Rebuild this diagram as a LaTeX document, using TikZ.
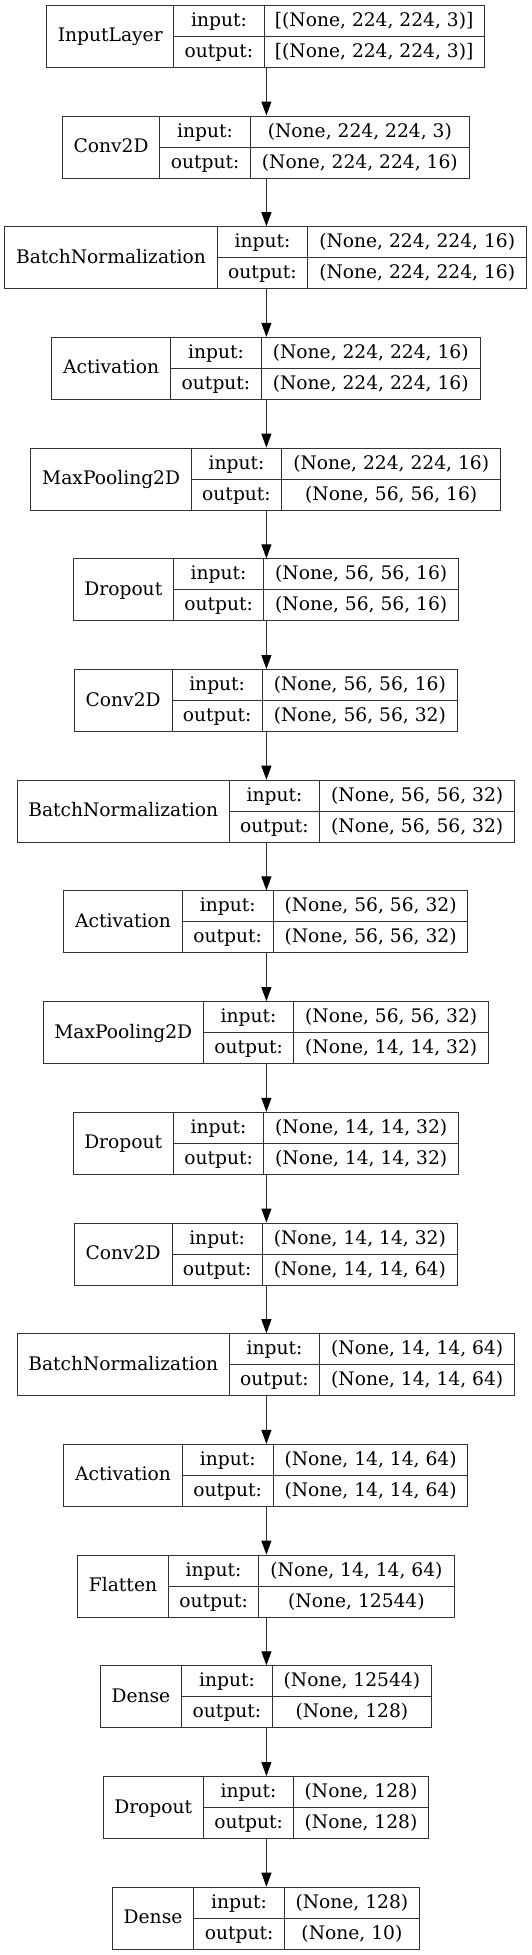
\documentclass[tikz,border=0pt]{standalone}
\usepackage{fontspec}
\setmainfont{DejaVu Serif}
\usetikzlibrary{arrows.meta}
\definecolor{linegray}{HTML}{333333}
\tikzset{
  layerbox/.style={draw=linegray, line width=1pt, rectangle, inner sep=0pt, minimum height=62pt},
  cell/.style={draw=linegray, line width=1pt},
  txt/.style={inner sep=0pt, text height=14pt, text depth=3pt, font=\fontsize{18.67pt}{22pt}\selectfont},
  conn/.style={draw=linegray, line width=1pt, -{Triangle[length=14pt,width=10pt,color=black]}}
}
\newcommand{\layer}[9]{%
  \pgfmathsetmacro{\lw}{#6-#3}%
  \pgfmathsetmacro{\lx}{(#6+#3)/2}%
  \node[layerbox, minimum width=\lw pt] (#1) at (\lx,#2+31) {};
  \draw[cell] (#4,#2) -- (#4,#2+62) (#5,#2) -- (#5,#2+62) (#4,#2+31) -- (#6,#2+31);
  \node[txt] (#1-n) at ({(#3+#4)/2},#2+31) {#7};
  \node[txt] (#1-i) at ({(#4+#5)/2},#2+15.5) {input:};
  \node[txt] (#1-o) at ({(#4+#5)/2},#2+46.5) {output:};
  \node[txt] (#1-a) at ({(#5+#6)/2},#2+15.5) {#8};
  \node[txt] (#1-b) at ({(#5+#6)/2},#2+46.5) {#9};
}
\begin{document}
\begin{tikzpicture}[x=1pt,y=-1pt]
\useasboundingbox[fill=white] (0,0) rectangle (532,1955);
\coordinate (ax) at (266.4,0);
\layer{b0}{5.3}{46.8}{173.7}{264.2}{484.2}{InputLayer}{[(None, 224, 224, 3)]}{[(None, 224, 224, 3)]}
\layer{b1}{116.0}{62.4}{159.8}{250.4}{469.3}{Conv2D}{(None, 224, 224, 3)}{(None, 224, 224, 16)}
\layer{b2}{226.7}{4.75}{217.2}{307.8}{526.6}{BatchNormalization}{(None, 224, 224, 16)}{(None, 224, 224, 16)}
\layer{b3}{337.4}{51.6}{170.7}{261.3}{480.2}{Activation}{(None, 224, 224, 16)}{(None, 224, 224, 16)}
\layer{b4}{448.1}{30.9}{191.4}{281.6}{500.8}{MaxPooling2D}{(None, 224, 224, 16)}{(None, 56, 56, 16)}
\layer{b5}{558.8}{73.3}{173.4}{263.7}{458.8}{Dropout}{(None, 56, 56, 16)}{(None, 56, 56, 16)}
\layer{b6}{669.5}{74.3}{172}{262.3}{457.4}{Conv2D}{(None, 56, 56, 16)}{(None, 56, 56, 32)}
\layer{b7}{780.2}{17}{229.4}{319.6}{514.8}{BatchNormalization}{(None, 56, 56, 32)}{(None, 56, 56, 32)}
\layer{b8}{890.9}{63.8}{182.2}{273.2}{467.9}{Activation}{(None, 56, 56, 32)}{(None, 56, 56, 32)}
\layer{b9}{1001.6}{43.1}{203.3}{293.9}{488.6}{MaxPooling2D}{(None, 56, 56, 32)}{(None, 14, 14, 32)}
\layer{b10}{1112.3}{73}{173.4}{263.7}{458.8}{Dropout}{(None, 14, 14, 32)}{(None, 14, 14, 32)}
\layer{b11}{1223.0}{74.3}{172}{262.3}{457.4}{Conv2D}{(None, 14, 14, 32)}{(None, 14, 14, 64)}
\layer{b12}{1333.7}{17}{229.4}{319.6}{514.8}{BatchNormalization}{(None, 14, 14, 64)}{(None, 14, 14, 64)}
\layer{b13}{1444.4}{63.8}{182.2}{273.2}{467.9}{Activation}{(None, 14, 14, 64)}{(None, 14, 14, 64)}
\layer{b14}{1555.1}{77.7}{168.3}{258.9}{454}{Flatten}{(None, 14, 14, 64)}{(None, 12544)}
\layer{b15}{1665.8}{100.4}{181.5}{272.5}{431.3}{Dense}{(None, 12544)}{(None, 128)}
\layer{b16}{1776.5}{103.2}{203.3}{293.9}{428.2}{Dropout}{(None, 128)}{(None, 128)}
\layer{b17}{1887.2}{112.3}{193.8}{284.4}{419.4}{Dense}{(None, 128)}{(None, 10)}
\foreach \a/\b in {b0/b1,b1/b2,b2/b3,b3/b4,b4/b5,b5/b6,b6/b7,b7/b8,b8/b9,b9/b10,b10/b11,b11/b12,b12/b13,b13/b14,b14/b15,b15/b16,b16/b17}
  \draw[conn] (\a.south -| ax) -- (\b.north -| ax);
\end{tikzpicture}
\end{document}
